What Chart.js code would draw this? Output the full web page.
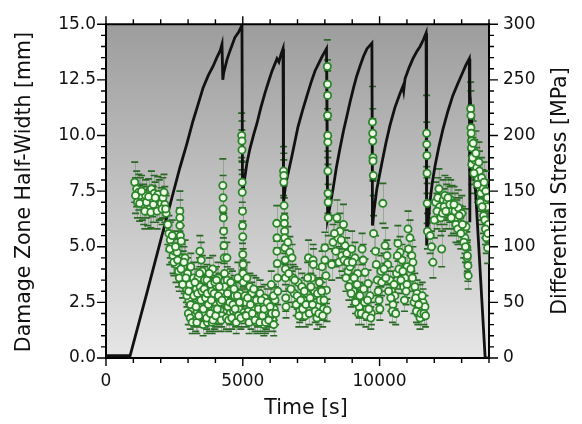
<!DOCTYPE html>
<html>
<head>
<meta charset="utf-8">
<script src="https://cdn.jsdelivr.net/npm/chart.js@4.4.1/dist/chart.umd.min.js"></script>
<style>
  html, body { margin: 0; padding: 0; background: #fff; }
  #wrap { width: 582px; height: 424px; }
</style>
</head>
<body>
<div id="wrap"><canvas id="chart" width="582" height="424"></canvas></div>
<script>
// --- differential stress (right axis, MPa) ---
const stressTime = [0, 880, 1500, 2000, 2270, 2700, 2950, 3180, 3380, 3550, 3740, 3910, 4050, 4170, 4240, 4270, 4300, 4420, 4530, 4710, 4850, 4970,
  4990, 5050, 5150, 5260, 5400, 5520, 5660, 5810, 5950, 6070, 6250, 6320, 6400, 6470,
  6490, 6560, 6800, 7020, 7180, 7350, 7500, 7640, 7780, 7900, 8060,
  8100, 8150, 8300, 8420, 8550, 8680, 8810, 8930, 9050, 9160, 9280, 9410, 9540, 9720,
  9740, 9800, 9900, 10090, 10230, 10380, 10560, 10750, 10850, 10880, 10930, 11080, 11220, 11350, 11480, 11600, 11700,
  11720, 11770, 11840, 11930, 12030, 12170, 12320, 12500, 12680, 12850, 13010, 13150, 13280,
  13300, 13310, 13860, 14000];
const stressMPa = [2, 2, 59, 106, 131, 171, 192, 213, 229, 243, 254, 262, 270, 276, 282, 250, 256, 268, 276, 288, 293, 299,
  146, 158, 175, 188, 201, 211, 225, 238, 249, 258, 269, 266, 273, 278,
  140, 155, 182, 208, 222, 236, 248, 258, 265, 271, 278,
  125, 131, 152, 171, 188, 204, 218, 231, 243, 253, 262, 271, 278, 283,
  119, 133, 152, 176, 193, 209, 225, 238, 244, 240, 251, 261, 269, 275, 280, 286, 292,
  101, 118, 140, 158, 173, 190, 206, 222, 236, 246, 255, 263, 269,
  122, 235, 0, 0];

// --- damage zone half-width (left axis, mm) with error ---
const dzTime = [
  1050, 1120, 1200, 1260, 1330, 1380, 1450, 1520, 1600, 1660, 1700, 1760, 1820, 1900, 1950, 2020, 2080, 2150, 2200,
  2260, 2300, 2350, 2400, 2450, 2500, 2560, 2600, 2650, 2700, 2700, 2700, 2720, 2750, 2780, 2820, 2860, 2890, 2940, 2980,
  3030, 3060, 3100, 3130, 3160, 3200, 3230, 3260, 3300, 3330, 3360, 3400, 3430, 3440, 3460, 3480, 3500, 3520, 3550, 3570,
  3600, 3630, 3660, 3690, 3720, 3750, 3780, 3800, 3830, 3860, 3900, 3930, 3960, 4000, 4030, 4060, 4100, 4130, 4170, 4200,
  3010, 3080, 3180, 3280, 3380, 3540, 3620, 3710, 3840, 3880, 3990, 4080, 4150, 4230,
  4270, 4280, 4280, 4290, 4300, 4310, 4320, 4330, 4340,
  4380, 4420, 4430, 4460, 4500, 4540, 4580, 4620, 4660, 4700, 4740, 4780, 4820, 4860, 4900,
  4960, 4970, 4970, 4980, 4980, 4990, 4990, 5000, 5000, 5010, 5010, 5020, 5030, 5040,
  5100, 5150, 5200, 5260, 5300, 5370, 5420, 5480, 5540, 5600, 5630, 5690, 5740, 5800, 5860, 5920, 5980, 6040, 6100, 6150, 6180,
  5070, 5330, 5510, 5660, 5770, 6010, 6120,
  6240, 6250, 6250, 6260, 6270, 6280,
  6490, 6500, 6500, 6510, 6520, 6520, 6530, 6530, 6540, 6550, 6560, 6560, 6570, 6580,
  6650, 6720, 6800, 6840, 6880, 6950, 7020, 7080, 7160, 7220, 7280, 7340, 7400, 7460, 7520,
  7570, 7580, 7620, 7680, 7710, 7750, 7800, 7850, 7900, 7950, 8000, 8000, 8040, 8060, 8080,
  8090, 8095, 8100, 8100, 8105, 8110, 8110, 8115, 8120, 8125,
  8300, 8440, 8480, 8550, 8620, 8680, 8740, 8800, 8850, 8920, 8930, 8980, 9040, 9100, 9150, 9200, 9260, 9300, 9360, 9400,
  9470, 9530, 9580, 9650, 9700,
  9740, 9750, 9750, 9760, 9760, 9770, 9780,
  9850, 9920, 9980, 10050, 10120, 10200, 10270, 10300, 10380, 10440, 10490, 10560, 10620, 10670, 10750, 10820,
  10880, 10930, 11000, 11000, 11040, 11110, 11180, 11220, 11290, 11370, 11400, 11480, 11480, 11540, 11590, 11660,
  11720, 11725, 11730, 11735, 11740, 11750,
  11850, 11950, 12050, 12130, 12200, 12270, 12330, 12390, 12460, 12540, 12600, 12650, 12700, 12760, 12830, 12880,
  12940, 13010, 13050, 13120, 13160, 13190, 13200, 13230, 13240,
  13330, 13340, 13340, 13350, 13360, 13360, 13370, 13420, 13480, 13550, 13600, 13650, 13700, 13730, 13780, 13800,
  13830, 13850, 13880, 13900, 13920, 13950, 13970,
  1080, 1150, 1230, 1300, 1420, 1480, 1560, 1640, 1730, 1800, 1870, 2050, 2120, 2180,
  2330, 2420, 2480, 2540, 2620, 2680, 2740, 2800, 2850, 2920, 2960,
  3020, 3090, 3150, 3210, 3250, 3290, 3320, 3350, 3390, 3420, 3470, 3510, 3560, 3590, 3640, 3680, 3700,
  3740, 3770, 3810, 3850, 3870, 3910, 3950, 3980, 4010, 4040, 4070, 4110, 4140, 4180, 4210, 4240,
  4400, 4440, 4480, 4520, 4560, 4600, 4640, 4680, 4720, 4760, 4800, 4840, 4880, 4930,
  5080, 5120, 5180, 5230, 5280, 5350, 5400, 5450, 5500, 5570, 5620, 5680, 5720, 5780, 5830, 5890, 5950,
  6000, 6060, 6130, 6200,
  6680, 6760, 6900, 6990, 7050, 7120, 7190, 7250, 7310, 7370, 7430, 7490, 7550, 7650, 7730, 7780, 7830,
  7880, 7920, 7970,
  8250, 8350, 8400, 8520, 8600, 8700, 8770, 8830, 8880, 8960, 9010, 9070, 9120, 9180, 9230, 9280, 9330,
  9420, 9450, 9500, 9560, 9610, 9680,
  9880, 9950, 10010, 10080, 10160, 10230, 10330, 10410, 10470, 10530, 10590, 10650, 10710, 10780,
  10850, 10910, 10970, 11060, 11140, 11200, 11260, 11320, 11350, 11430, 11510, 11560, 11620, 11680,
  11900, 12000, 12100, 12170, 12240, 12300, 12360, 12420, 12500, 12570,
  12620, 12720, 12790, 12860, 12910, 12970, 13030, 13080, 13140, 13210,
  13400, 13450, 13520, 13580, 13630, 13680, 13750, 13820, 13870, 13940, 13960
];
const dzWidth = [
  7.9, 7.6, 7.45, 7.2, 7.0, 6.9, 7.3, 6.75, 6.7, 7.6, 7.05, 7.4, 6.8, 7.35, 7.1, 6.95, 7.2, 6.9, 6.5,
  6.0, 5.6, 5.3, 5.0, 4.6, 4.8, 4.2, 4.75, 3.9, 6.6, 6.3, 5.95, 5.5, 5.25, 4.5, 4.1, 3.5, 4.5, 3.1, 3.8,
  2.6, 3.3, 4.1, 2.2, 2.9, 3.6, 1.9, 2.5, 3.1, 2.1, 3.6, 2.7, 4.8, 3.2, 2.0, 4.4, 2.4, 3.9, 1.5, 2.8,
  3.5, 1.9, 2.3, 3.5, 2.1, 2.9, 1.7, 2.7, 3.3, 2.2, 4.0, 2.5, 1.8, 3.1, 2.4, 2.7, 3.6, 2.0, 2.15, 3.0,
  2.0, 1.8, 2.4, 1.7, 2.3, 2.0, 2.6, 1.6, 2.0, 1.6, 2.2, 1.7, 2.6, 1.9,
  7.75, 7.2, 6.7, 6.3, 5.7, 5.05, 4.5, 3.8, 3.2,
  2.6, 4.5, 3.5, 2.3, 3.0, 2.0, 2.6, 3.3, 2.1, 2.8, 1.9, 2.4, 3.6, 2.2, 2.9,
  10.0, 9.75, 9.35, 7.9, 7.45, 6.6, 5.95, 5.45, 4.65, 4.2, 3.8, 3.4, 2.6, 2.05,
  2.5, 3.6, 2.1, 3.2, 1.8, 2.6, 2.2, 3.0, 1.9, 2.4, 2.9, 1.7, 2.3, 2.7, 1.8, 2.0, 2.5, 3.3, 1.7, 2.2, 2.6,
  1.9, 2.9, 1.6, 2.0, 1.5, 1.9, 2.8,
  6.05, 5.4, 4.8, 4.25, 3.6, 3.0,
  8.4, 8.2, 7.9, 6.85, 6.3, 6.05, 5.7, 5.4, 4.95, 4.4, 4.0, 3.6, 2.7, 2.3,
  5.2, 4.75, 4.5, 3.6, 2.9, 2.4, 3.4, 2.1, 3.2, 2.6, 1.9, 2.9, 4.5, 2.7, 3.6,
  4.4, 4.2, 3.0, 2.5, 1.8, 2.3, 3.4, 2.8, 4.1, 2.2, 4.95, 4.4, 3.7, 3.05, 2.15,
  13.1, 12.3, 11.8, 10.9, 10.0, 9.7, 8.4, 7.4, 7.0, 6.3,
  5.2, 6.3, 5.4, 5.7, 4.6, 6.0, 5.05, 4.7, 3.9, 4.1, 3.5, 4.9, 3.0, 4.5, 2.6, 3.8, 2.3, 3.2, 4.9, 4.4,
  3.85, 2.2, 3.35, 2.8, 2.0,
  10.6, 10.1, 9.75, 9.0, 8.85, 8.2, 5.6,
  4.8, 3.5, 2.6, 3.9, 6.95, 5.05, 4.6, 4.2, 3.5, 3.0, 2.4, 2.8, 3.8, 5.15, 4.75, 4.4,
  3.2, 3.6, 4.1, 3.3, 5.8, 5.4, 4.6, 4.3, 3.2, 2.9, 2.0, 2.7, 1.8, 2.2, 2.5, 2.3,
  10.1, 9.6, 9.1, 8.3, 6.95, 5.7,
  5.5, 4.3, 7.0, 7.2, 6.8, 4.9, 7.1, 7.3, 7.0, 6.6, 7.1, 6.95, 6.4, 6.6, 6.3, 6.75,
  6.05, 6.5, 5.7, 5.4, 5.9, 4.97, 4.5, 4.15, 3.7,
  11.2, 10.9, 10.35, 10.1, 9.75, 9.45, 8.7, 9.65, 8.9, 8.55, 8.05, 8.4, 7.4, 8.1, 7.65, 6.4,
  7.0, 6.2, 7.5, 5.4, 6.8, 4.95, 6.0,
  7.3, 7.0, 6.95, 7.5, 6.6, 7.0, 7.25, 6.55, 6.9, 7.2, 6.6, 6.7, 7.45, 6.7,
  4.9, 5.5, 4.3, 5.0, 4.4, 3.6, 4.0, 3.3, 4.3, 3.6, 2.8,
  3.0, 2.4, 1.6, 2.8, 3.4, 2.3, 1.6, 2.9, 1.9, 3.8, 2.6, 3.0, 2.2, 3.1, 2.7, 1.8, 2.9,
  2.4, 3.8, 2.0, 2.6, 3.0, 1.7, 2.9, 3.4, 1.9, 3.5, 2.2, 2.8, 3.2, 2.5, 1.7, 2.6,
  1.8, 2.9, 1.7, 2.5, 3.4, 1.8, 2.4, 3.1, 2.2, 1.6, 2.8, 1.9, 2.5, 1.8,
  2.8, 1.9, 2.7, 1.6, 2.4, 2.0, 3.1, 1.7, 2.6, 2.2, 1.6, 2.6, 1.9, 2.2, 1.6, 2.5, 1.7,
  2.3, 2.0, 1.5, 2.0,
  3.8, 3.1, 3.5, 2.8, 1.9, 2.6, 2.2, 3.0, 2.4, 3.6, 2.0, 3.2, 2.4, 2.1, 2.9, 2.0, 2.6,
  3.0, 1.9, 2.6,
  4.2, 5.6, 4.8, 4.3, 5.3, 4.4, 3.6, 4.3, 3.2, 2.9, 4.3, 3.6, 2.5, 3.3, 2.0, 2.8, 2.0,
  3.1, 2.5, 1.9, 2.6, 2.2, 1.8,
  4.2, 3.0, 2.2, 3.4, 4.0, 3.6, 3.0, 2.7, 2.1, 3.3, 2.0, 4.6, 4.0, 3.5,
  3.9, 2.6, 3.0, 4.9, 4.0, 3.6, 2.5, 2.7, 2.1, 2.4, 2.0, 2.8, 2.0, 1.9,
  5.0, 6.2, 6.6, 7.6, 6.3, 6.5, 6.8, 6.6, 7.2, 6.9,
  6.3, 6.9, 6.0, 5.8, 6.4, 5.6, 6.0, 5.2, 5.0, 4.6,
  9.0, 8.3, 9.2, 7.8, 8.8, 7.0, 6.8, 7.9, 5.8, 7.2, 5.6
];
const dzErr = [
  .9, .8, .8, .9, .8, .9, .7, .8, .9, .8, .7, .8, .7, .8, .9, .7, .9, .8, .8,
  .9, .8, .8, .7, .8, .7, .8, .6, .7, .9, .8, .8, .7, .7, .6, .7, .6, .8, .6, .7,
  .6, .7, .6, .5, .6, .7, .5, .6, .6, .6, .7, .6, .7, .6, .5, .8, .5, .7, .5, .6,
  .6, .5, .6, .7, .5, .6, .5, .6, .7, .5, .6, .6, .5, .6, .6, .6, .7, .5, .6, .6,
  .5, .5, .5, .5, .5, .5, .5, .5, .5, .5, .5, .5, .5, .5,
  1.2, 1.0, 1.0, .9, .8, .8, .7, .7, .6,
  .6, .7, .6, .5, .6, .5, .6, .6, .5, .6, .5, .6, .7, .5, .6,
  1.0, .9, .9, .9, .8, .8, .8, .7, .7, .7, .6, .6, .6, .5,
  .6, .7, .5, .6, .5, .6, .5, .6, .5, .6, .6, .5, .5, .6, .5, .5, .6, .6, .5, .5, .6,
  .5, .5, .5, .5, .5, .5, .5,
  .8, .7, .7, .7, .6, .6,
  1.1, 1.0, 1.0, .9, .9, .8, .8, .7, .7, .7, .7, .6, .6, .5,
  .7, .7, .6, .6, .6, .5, .6, .5, .6, .6, .5, .6, .8, .6, .6,
  .7, .7, .6, .6, .5, .5, .6, .6, .7, .5, .7, .7, .6, .6, .5,
  1.2, 1.1, 1.1, 1.0, 1.0, 1.0, .9, .9, .8, .8,
  .8, .8, .7, .8, .7, .9, .7, .7, .6, .7, .6, .8, .6, .7, .6, .7, .5, .6, .7, .7,
  .6, .5, .6, .6, .5,
  1.6, 1.1, 1.0, 1.0, .9, .9, .8,
  .7, .7, .6, .7, .9, .8, .7, .7, .6, .6, .5, .6, .7, .8, .7, .7,
  .6, .6, .7, .6, .8, .8, .7, .7, .6, .6, .5, .6, .5, .5, .6, .5,
  1.7, 1.0, 1.0, .9, .9, .8,
  .8, .7, .9, .9, .8, .8, .9, .9, .8, .8, .9, .8, .8, .8, .8, .8,
  .8, .8, .8, .7, .8, .7, .7, .7, .6,
  1.2, 1.1, 1.0, 1.0, 1.0, 1.0, .9, 1.0, .9, .9, .9, .9, .8, .9, .8, .8,
  .8, .8, .9, .7, .8, .7, .8,
  .8, .7, .8, .7, .8, .7, .8, .7, .8, .7, .8, .7, .8, .7,
  .7, .7, .6, .7, .6, .6, .6, .6, .7, .6, .5,
  .6, .5, .5, .6, .6, .5, .5, .6, .5, .7, .6, .6, .5, .6, .6, .5, .6,
  .5, .7, .5, .6, .6, .5, .6, .6, .5, .6, .5, .6, .6, .6, .5, .6,
  .5, .6, .5, .6, .6, .5, .6, .6, .5, .5, .6, .5, .6, .5,
  .6, .5, .6, .5, .6, .5, .6, .5, .6, .5, .5, .6, .5, .5, .5, .6, .5,
  .5, .5, .5, .5,
  .7, .6, .6, .6, .5, .6, .5, .6, .5, .7, .5, .6, .5, .5, .6, .5, .6,
  .6, .5, .6,
  .7, .8, .7, .7, .8, .7, .6, .7, .6, .6, .7, .6, .5, .6, .5, .6, .5,
  .6, .5, .5, .6, .5, .5,
  .7, .6, .5, .6, .7, .6, .6, .6, .5, .6, .5, .7, .7, .6,
  .6, .5, .6, .8, .7, .6, .5, .6, .5, .5, .5, .6, .5, .5,
  .7, .8, .8, .9, .8, .8, .8, .8, .9, .8,
  .8, .8, .8, .7, .8, .7, .8, .7, .7, .7,
  .9, .9, 1.0, .8, .9, .8, .8, .9, .7, .8, .7
];

// --- axis ticks ---
const timeTicks = [0, 5000, 10000];
const widthTicks = [0, 2.5, 5, 7.5, 10, 12.5, 15];
const stressTicks = [0, 50, 100, 150, 200, 250, 300];
const timeMinorStep = 1000;
const widthMinorStep = 0.5;
const stressMinorStep = 10;

const FONT = '"DejaVu Sans", sans-serif';
Chart.defaults.font.family = FONT;
Chart.defaults.color = '#111';

// gray gradient behind the plot
const plotBackground = {
  id: 'plotBackground',
  beforeDraw(chart) {
    const { ctx, chartArea: a } = chart;
    const g = ctx.createLinearGradient(0, a.top, 0, a.bottom);
    g.addColorStop(0, '#9d9d9d');
    g.addColorStop(1, '#e6e6e6');
    ctx.save();
    ctx.fillStyle = g;
    ctx.fillRect(a.left, a.top, a.right - a.left, a.bottom - a.top);
    ctx.restore();
  }
};

// vertical error bars with caps, under the markers
const errorBars = {
  id: 'errorBars',
  beforeDatasetsDraw(chart) {
    const { ctx, chartArea: a, scales: { x, y } } = chart;
    ctx.save();
    ctx.beginPath();
    ctx.rect(a.left, a.top, a.right - a.left, a.bottom - a.top);
    ctx.clip();

    ctx.strokeStyle = 'rgba(115,145,115,0.55)';
    ctx.lineWidth = 1;
    ctx.beginPath();
    dzTime.forEach((t, i) => {
      const px = Math.round(x.getPixelForValue(t)) + 0.5;
      ctx.moveTo(px, y.getPixelForValue(dzWidth[i] - dzErr[i]));
      ctx.lineTo(px, y.getPixelForValue(dzWidth[i] + dzErr[i]));
    });
    ctx.stroke();

    ctx.strokeStyle = '#2a6826';
    ctx.lineWidth = 1.7;
    ctx.beginPath();
    dzTime.forEach((t, i) => {
      const px = x.getPixelForValue(t);
      [dzWidth[i] - dzErr[i], dzWidth[i] + dzErr[i]].forEach(v => {
        const py = y.getPixelForValue(v);
        ctx.moveTo(px - 3.5, py);
        ctx.lineTo(px + 3.5, py);
      });
    });
    ctx.stroke();
    ctx.restore();
  }
};

// outward major/minor ticks on all sides, top frame line, axis titles
const frameAndTicks = {
  id: 'frameAndTicks',
  afterDraw(chart) {
    const { ctx, chartArea: a, scales: { x, y, yR } } = chart;
    ctx.save();
    ctx.strokeStyle = '#000';
    ctx.lineWidth = 2;
    ctx.beginPath();
    ctx.moveTo(a.left - 1, a.top);
    ctx.lineTo(a.right + 1, a.top);
    ctx.stroke();

    ctx.lineWidth = 1.4;
    ctx.beginPath();
    for (let i = 0; i * timeMinorStep <= x.max; i++) {
      const t = i * timeMinorStep;
      const px = x.getPixelForValue(t);
      const len = timeTicks.includes(t) ? 8 : 5;
      ctx.moveTo(px, a.bottom); ctx.lineTo(px, a.bottom + len);
      ctx.moveTo(px, a.top); ctx.lineTo(px, a.top - len);
    }
    for (let i = 0; i * widthMinorStep <= y.max; i++) {
      const v = i * widthMinorStep;
      const py = y.getPixelForValue(v);
      const len = widthTicks.includes(v) ? 9 : 5;
      ctx.moveTo(a.left, py); ctx.lineTo(a.left - len, py);
    }
    for (let i = 0; i * stressMinorStep <= yR.max; i++) {
      const v = i * stressMinorStep;
      const py = yR.getPixelForValue(v);
      const len = stressTicks.includes(v) ? 9 : 5;
      ctx.moveTo(a.right, py); ctx.lineTo(a.right + len, py);
    }
    ctx.stroke();

    ctx.fillStyle = '#111';
    ctx.font = '20.5px ' + FONT;
    ctx.textAlign = 'center';
    ctx.textBaseline = 'middle';
    ctx.fillText('Time [s]', 306, 409);
    const midY = (a.top + a.bottom) / 2;
    ctx.translate(25, midY + 1);
    ctx.rotate(-Math.PI / 2);
    ctx.fillText('Damage Zone Half-Width [mm]', 0, 0);
    ctx.setTransform(1, 0, 0, 1, 0, 0);
    ctx.translate(561, midY);
    ctx.rotate(-Math.PI / 2);
    ctx.fillText('Differential Stress [MPa]', 0, 0);
    ctx.restore();
  }
};

const axisBase = {
  grid: { display: true, drawOnChartArea: false, drawTicks: false },
  border: { display: true, color: '#000', width: 2 }
};

new Chart(document.getElementById('chart'), {
  type: 'scatter',
  data: {
    datasets: [
      {
        label: 'Damage Zone Half-Width',
        data: dzTime.map((t, i) => ({ x: t, y: dzWidth[i] })),
        yAxisID: 'y',
        pointRadius: 3.6,
        pointBorderWidth: 1.8,
        borderColor: '#2b852b',
        backgroundColor: '#eefae6',
        order: 0
      },
      {
        type: 'line',
        label: 'Differential Stress',
        data: stressTime.map((t, i) => ({ x: t, y: stressMPa[i] })),
        yAxisID: 'yR',
        borderColor: '#111',
        borderWidth: 2.8,
        pointRadius: 0,
        tension: 0,
        fill: false,
        order: 1
      }
    ]
  },
  options: {
    responsive: false,
    animation: false,
    devicePixelRatio: 1,
    layout: { padding: { top: 23, left: 0, right: 0, bottom: 0 } },
    plugins: { legend: { display: false }, tooltip: { enabled: false } },
    scales: {
      x: {
        ...axisBase,
        type: 'linear',
        min: 0,
        max: 14000,
        afterBuildTicks: s => { s.ticks = timeTicks.map(v => ({ value: v })); },
        afterFit: s => { s.height = 66; },
        ticks: { padding: 13, font: { size: 17 }, maxRotation: 0, autoSkip: false, callback: v => String(v) }
      },
      y: {
        ...axisBase,
        position: 'left',
        min: 0,
        max: 15,
        afterBuildTicks: s => { s.ticks = widthTicks.map(v => ({ value: v })); },
        afterFit: s => { s.width = 106; },
        ticks: { padding: 10, font: { size: 17 }, callback: v => v.toFixed(1) }
      },
      yR: {
        ...axisBase,
        position: 'right',
        min: 0,
        max: 300,
        afterBuildTicks: s => { s.ticks = stressTicks.map(v => ({ value: v })); },
        afterFit: s => { s.width = 93; },
        ticks: { padding: 14, font: { size: 17 } }
      }
    }
  },
  plugins: [plotBackground, errorBars, frameAndTicks]
});
</script>
</body>
</html>
